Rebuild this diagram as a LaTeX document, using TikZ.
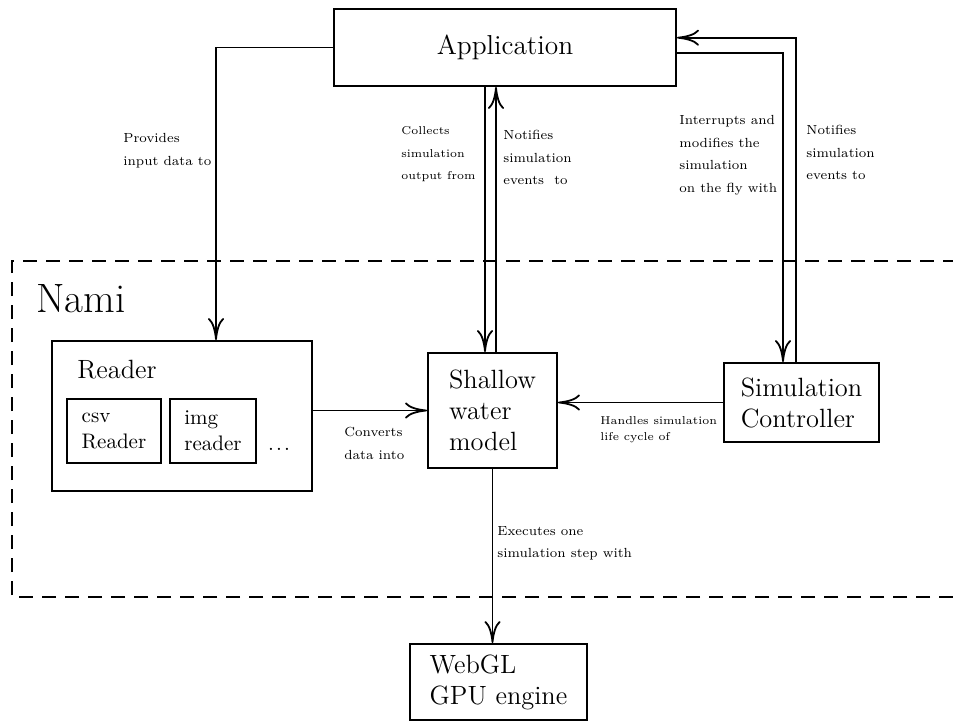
\documentclass[tikz,border=0pt]{standalone}
\usepackage{tikz}
\usetikzlibrary{arrows.meta}

\tikzset{
  box/.style={draw,line width=1pt,inner sep=0pt,align=left,font=\fontsize{13.2}{15.5}\selectfont},
  subbox/.style={draw,line width=1pt,inner sep=0pt,align=left,font=\fontsize{10.5}{13}\selectfont},
  conn/.style={line width=0.9pt,-{To[length=11pt,width=8pt]}},
  lbl/.style={anchor=north west,inner sep=0pt,align=left,font=\fontsize{6.6}{11.3}\selectfont},
  lblsmall/.style={lbl,font=\fontsize{5.7}{11.3}\selectfont},
}

\begin{document}
\begin{tikzpicture}[x=0.5pt,y=-0.5pt]
    \useasboundingbox (0,0) rectangle (953,724);
    % the Nami frame
    \draw[line width=1pt,dash pattern=on 7pt off 4.5pt] (953,597) -- (12,597) -- (12,261) -- (953,261);
    \node[anchor=west,inner sep=0pt,font=\fontsize{20.5}{24}\selectfont] (nami) at (36,299) {Nami};
    % boxes
    \node[box,minimum width=171pt,minimum height=38.5pt,font=\fontsize{13.7}{16}\selectfont] (app) at (505,47.5) {Application};
    \node[draw,line width=1pt,inner sep=0pt,minimum width=130pt,minimum height=75pt] (reader) at (182,416) {};
    \node[anchor=west,inner sep=0pt,font=\fontsize{13.2}{16}\selectfont] (readertitle) at (77,370) {Reader};
    \node[subbox,minimum width=47pt,minimum height=32pt] (csv) at (114,431) {csv\\Reader};
    \node[subbox,minimum width=43pt,minimum height=32pt] (img) at (213,431) {img\\reader};
    \node[anchor=base,inner sep=0pt,font=\fontsize{10.5}{13}\selectfont] (more) at (279,450) {.\kern1.1pt.\kern1.1pt.};
    \node[box,minimum width=64.5pt,minimum height=57.5pt] (shallow) at (492.5,410.5) {Shallow\\water\\model};
    \node[box,minimum width=77.5pt,minimum height=39.5pt] (ctrl) at (801.5,402.5) {Simulation\\Controller};
    \node[box,minimum width=88.5pt,minimum height=38pt] (gpu) at (498.5,682) {WebGL\\GPU engine};
    % connectors
    \draw[conn] (app.west) -| ([xshift=17pt]reader.north);
    \draw[conn] ([xshift=-3.75pt]shallow.north |- app.south) -- ([xshift=-3.75pt]shallow.north);
    \draw[conn] ([xshift=1.75pt]shallow.north) -- ([xshift=1.75pt]shallow.north |- app.south);
    \draw[conn] ([yshift=-2.75pt]app.east) -| ([xshift=-9.25pt]ctrl.north);
    \draw[conn] ([xshift=-2.75pt]ctrl.north) |- ([yshift=4.9pt]app.east);
    \draw[conn] (reader.east |- shallow.west) -- (shallow.west);
    \draw[conn] (ctrl.west) -- (ctrl.west -| shallow.east);
    \draw[conn] (shallow.south) -- (shallow.south |- gpu.north);
    % labels
    \node[lbl] (provides) at (123,133) {Provides\\input data to};
    \node[lblsmall] (collects) at (401,126) {Collects\\simulation\\output from};
    \node[lbl] (notifyapp) at (503,130) {Notifies\\simulation\\events\ \ to};
    \node[lbl] (interrupts) at (679,115) {Interrupts and\\modifies the\\simulation\\on the fly with};
    \node[lbl] (notifyctrl) at (806,125) {Notifies\\simulation\\events to};
    \node[lbl] (converts) at (344,427) {Converts\\data into};
    \node[lblsmall,font=\fontsize{5.7}{8}\selectfont] (handles) at (600,416) {Handles simulation\\life cycle of};
    \node[lbl] (executes) at (497,526) {Executes one\\simulation step with};
\end{tikzpicture}
\end{document}
